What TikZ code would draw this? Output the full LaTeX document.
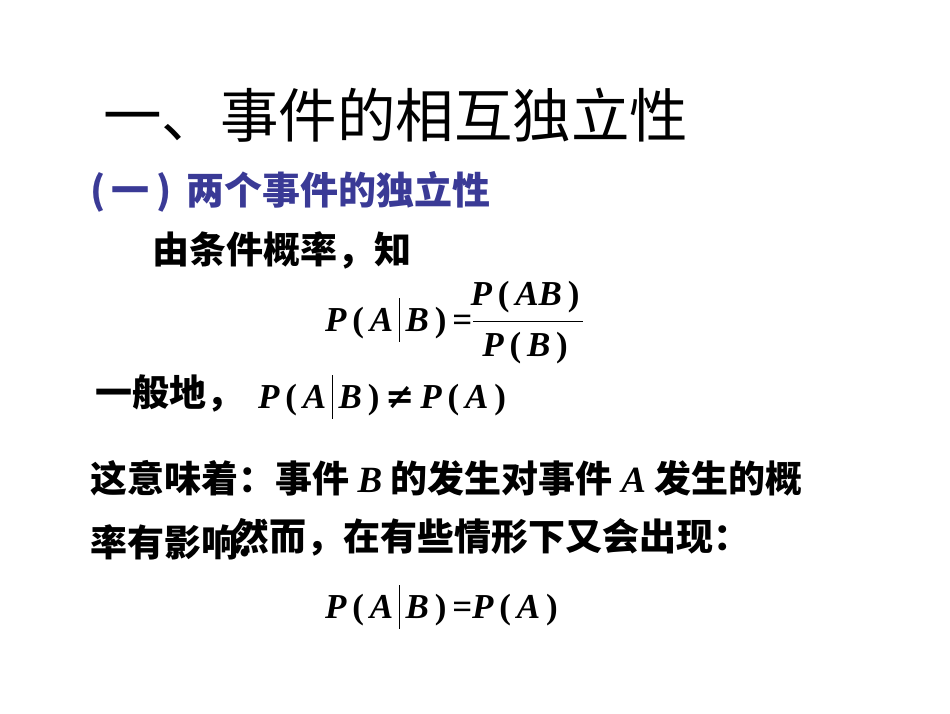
\documentclass[tikz,border=0pt]{standalone}
\usepackage{fontspec}
\setmainfont{Liberation Serif}
\newfontfamily\cjk{Noto Sans CJK SC}
\newfontfamily\mth{Liberation Serif}[ItalicFont={* Bold Italic},UprightFont={* Bold}]
\definecolor{tblue}{RGB}{58,58,150}
\newcommand{\vb}{\rule[-0.3em]{0.7pt}{1.25em}}
\newcommand{\lp}{\upshape\,(\,\itshape}
\newcommand{\rp}{\upshape\,)\,\itshape}
\begin{document}
\begin{tikzpicture}[x=1pt,y=-1pt,
  txt/.style={anchor=west,inner sep=0pt,font=\fontsize{37}{40}\selectfont\cjk\bfseries},
  mf/.style={anchor=west,inner sep=0pt,font=\fontsize{35}{40}\selectfont\mth\itshape}]
\useasboundingbox (0,0) rectangle (950,713);
\node[anchor=west,inner sep=0pt,font=\fontsize{58.5}{62}\selectfont\cjk] (title) at (103,115) {一、事件的相互独立性};
\node[anchor=west,inner sep=0pt,font=\fontsize{38}{42}\selectfont\cjk\bfseries,text=tblue] (sub) at (90,192) {(\,一\,) \,两个事件的独立性};
\node[txt] (t1) at (152,250) {由条件概率，知};
\node[mf] (f1) at (325,320) {P\lp A\,\vb\,B\rp\upshape =};
\node[mf,anchor=center] (num) at (528,297) {P\lp AB\rp};
\node[mf,anchor=center] (den) at (528,348) {P\lp B\rp};
\draw[line width=0.8pt] (473,321) -- (583,321);
\node[txt] (t2) at (95,393) {一般地，};
\node[mf] (f2) at (258,397) {P\lp A\,\vb\,B\rp {\fontspec{DejaVu Serif}\bfseries\upshape ≠}\,P\lp A\rp};
\node[txt] (t3) at (90,478) {这意味着：事件 {\mth\itshape B} 的发生对事件 {\mth\itshape A} 发生的概};
\node[txt] (t4) at (90,542) {率有影响.};
\node[txt] (t5) at (232,537) {然而，在有些情形下又会出现：};
\node[mf] (f3) at (325,607) {P\lp A\,\vb\,B\rp\upshape =\itshape P\lp A\rp};
\end{tikzpicture}
\end{document}
